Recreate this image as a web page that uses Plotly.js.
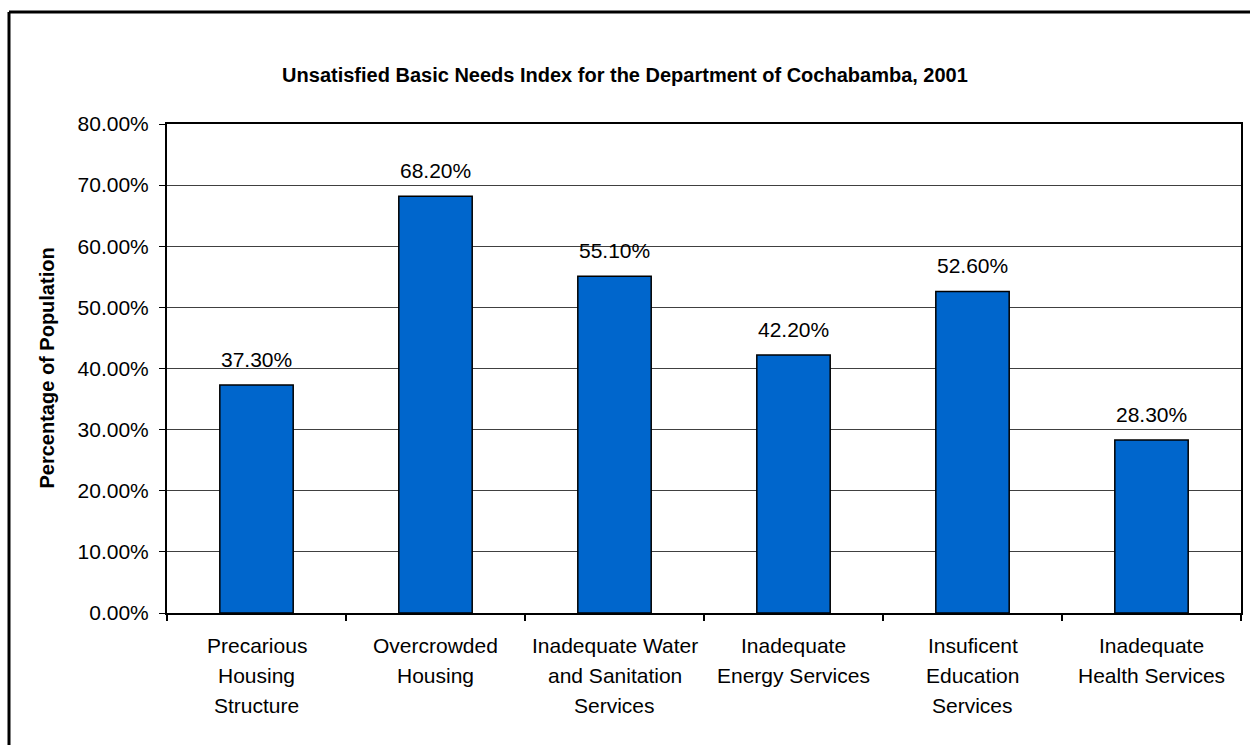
<!DOCTYPE html>
<html>
<head>
<meta charset="utf-8">
<script src="https://cdn.plot.ly/plotly-3.0.1.min.js"></script>
<style>html,body{margin:0;padding:0;background:#fff;}#chart{width:1250px;height:745px;}</style>
</head>
<body>
<div id="chart"></div>
<script>
var categories = [
  "Precarious<br>Housing<br>Structure",
  "Overcrowded<br>Housing",
  "Inadequate Water<br>and Sanitation<br>Services",
  "Inadequate<br>Energy Services",
  "Insuficent<br>Education<br>Services",
  "Inadequate<br>Health Services"
];
var values = [0.373, 0.682, 0.551, 0.422, 0.526, 0.283];
var valueLabels = ["37.30%", "68.20%", "55.10%", "42.20%", "52.60%", "28.30%"];
var yTickVals = [0, 0.1, 0.2, 0.3, 0.4, 0.5, 0.6, 0.7, 0.8];
var yTickText = ["0.00%", "10.00%", "20.00%", "30.00%", "40.00%", "50.00%", "60.00%", "70.00%", "80.00%"];
var chartTitle = "Unsatisfied Basic Needs Index for the Department of Cochabamba, 2001";
var yTitle = "Percentage of Population";

var W = 1250, H = 745;
var M = {l: 167, r: 9, t: 124, b: 132};
var pw = W - M.l - M.r, ph = H - M.t - M.b;
function px2x(px) { return (px - M.l) / pw; }
function px2y(py) { return 1 - (py - M.t) / ph; }

var FONT = "Liberation Sans, Arial, sans-serif";

var trace = {
  type: "bar",
  x: categories,
  y: values,
  marker: {color: "#0066CC", line: {color: "#000000", width: 1.5}},
  hoverinfo: "none"
};

var annotations = [];
categories.forEach(function (c, i) {
  annotations.push({
    x: c, y: values[i], xref: "x", yref: "y",
    text: valueLabels[i], showarrow: false,
    yanchor: "bottom", yshift: 12,
    font: {family: FONT, size: 21, color: "#000"}
  });
  var lines = c.split("<br>");
  lines.forEach(function (ln, j) {
    annotations.push({
      x: c, y: px2y(645 + j * 30), xref: "x", yref: "paper",
      text: ln, showarrow: false, yanchor: "middle",
      font: {family: FONT, size: 21, color: "#000"}
    });
  });
});
annotations.push({
  x: px2x(46), y: px2y((124 + 613) / 2), xref: "paper", yref: "paper",
  text: "<b>" + yTitle + "</b>", showarrow: false, textangle: -90,
  xanchor: "center", yanchor: "middle",
  font: {family: FONT, size: 20, color: "#000"}
});

var layout = {
  width: W, height: H,
  margin: M,
  paper_bgcolor: "#ffffff",
  plot_bgcolor: "#ffffff",
  showlegend: false,
  bargap: 0.59,
  title: {
    text: "<b>" + chartTitle + "</b>",
    x: 0.5, xref: "container", xanchor: "center",
    y: 1 - 75 / H, yref: "container", yanchor: "middle",
    font: {family: FONT, size: 20, color: "#000"}
  },
  xaxis: {
    type: "category",
    showticklabels: false,
    ticks: "outside", ticklen: 6, tickwidth: 2, tickcolor: "#000",
    tickson: "boundaries",
    showline: true, linecolor: "#000", linewidth: 2, mirror: true,
    showgrid: false, zeroline: false, fixedrange: true
  },
  yaxis: {
    range: [0, 0.8],
    tickvals: yTickVals, ticktext: yTickText,
    ticks: "outside", ticklen: 6, tickwidth: 1, tickcolor: "#000",
    ticklabelstandoff: 6,
    tickfont: {family: FONT, size: 21, color: "#000"},
    showline: true, linecolor: "#000", linewidth: 2, mirror: true,
    showgrid: true, gridcolor: "#404040", gridwidth: 1,
    zeroline: false, fixedrange: true
  },
  annotations: annotations,
  shapes: [
    {type: "line", xref: "paper", yref: "paper",
     x0: px2x(9), x1: px2x(1260), y0: px2y(12), y1: px2y(12),
     line: {color: "#000", width: 3}},
    {type: "line", xref: "paper", yref: "paper",
     x0: px2x(9), x1: px2x(9), y0: px2y(12), y1: px2y(760),
     line: {color: "#000", width: 3}}
  ]
};

Plotly.newPlot("chart", [trace], layout, {displayModeBar: false, staticPlot: true});
</script>
</body>
</html>
